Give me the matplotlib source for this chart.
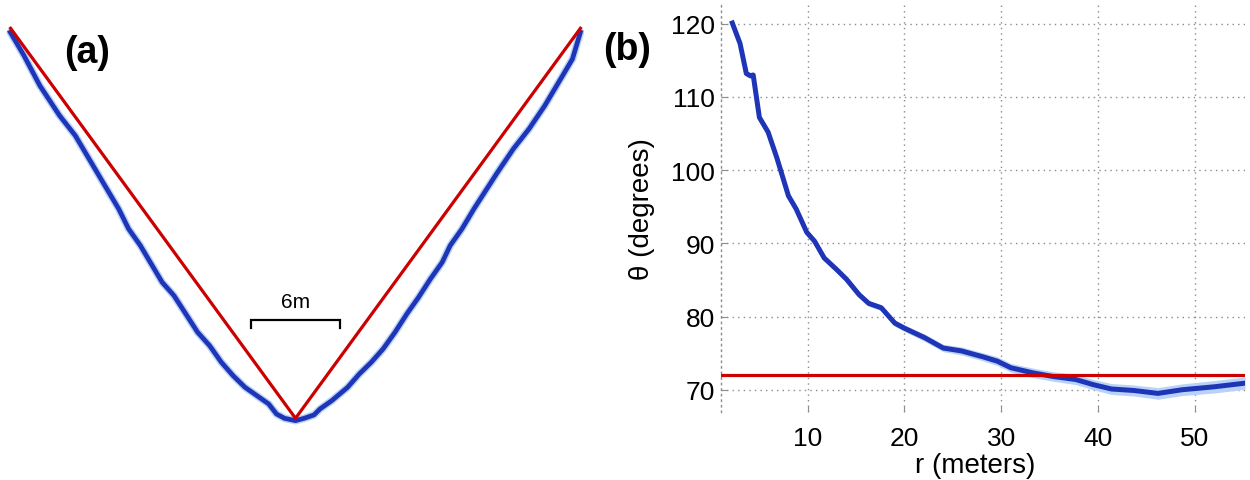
import matplotlib
matplotlib.use("Agg")
import matplotlib.pyplot as plt
import numpy as np

plt.rcParams['font.family'] = ['Liberation Sans', 'DejaVu Sans']

# ---------------- Panel (a): shape in meters ----------------
shape_x = [-19.38, -18.45, -17.37, -16.03, -14.96, -13.62, -12.95, -12.01, -11.34, -10.54,
           -9.87, -9.06, -8.26, -7.45, -6.65, -5.84, -5.04, -4.24, -3.43, -2.63,
           -1.82, -1.29, -0.75, 0.0, 0.59, 1.26, 1.66, 2.47, 3.54, 4.34,
           5.15, 5.95, 6.76, 7.56, 8.36, 9.17, 9.97, 10.51, 11.31, 12.12,
           12.92, 13.73, 14.80, 15.87, 16.94, 18.02, 18.82, 19.36]
shape_y = [26.17, 24.59, 22.55, 20.52, 19.16, 16.90, 15.77, 14.19, 12.84, 11.71,
           10.58, 9.22, 8.32, 7.07, 5.83, 4.93, 3.80, 2.89, 2.10, 1.54,
           0.97, 0.29, 0.0, -0.16, 0.0, 0.23, 0.63, 1.20, 2.10, 3.01,
           3.80, 4.70, 5.83, 7.07, 8.20, 9.45, 10.58, 11.71, 12.84, 14.19,
           15.43, 16.68, 18.26, 19.62, 21.20, 23.01, 24.36, 26.17]
wedge_x = [-19.36, 0.0, 19.36]
wedge_y = [26.44, 0.0, 26.44]
scale_bar_m = 6
scale_label = "6m"

# ---------------- Panel (b): theta vs r ----------------
r_m = [2.2, 3.0, 3.65, 4.07, 4.36, 5.0, 5.9, 6.8, 8.0, 8.8,
       9.9, 10.7, 11.7, 13.0, 14.0, 15.3, 16.3, 17.6, 19.0, 20.0,
       22.1, 24.0, 25.9, 28.1, 29.6, 31.0, 33.3, 35.4, 37.7, 39.5,
       41.4, 43.7, 46.2, 48.7, 52.0, 55.2]
theta_deg = [120.1, 117.3, 113.2, 112.9, 113.0, 107.2, 105.2, 101.7, 96.5, 94.7,
             91.5, 90.3, 88.0, 86.4, 85.1, 83.0, 81.8, 81.2, 79.1, 78.4,
             77.1, 75.7, 75.3, 74.5, 73.9, 73.0, 72.3, 71.8, 71.4, 70.7,
             70.1, 69.9, 69.5, 70.0, 70.4, 70.9]
theta_sd = [0.6, 0.5, 0.4, 0.4, 0.4, 0.35, 0.35, 0.3, 0.3, 0.3,
            0.3, 0.3, 0.3, 0.35, 0.35, 0.4, 0.4, 0.4, 0.45, 0.45,
            0.5, 0.5, 0.55, 0.55, 0.6, 0.6, 0.65, 0.65, 0.7, 0.7,
            0.75, 0.75, 0.8, 0.8, 0.85, 0.85]
theta_ref = 72
xticks_b = [10, 20, 30, 40, 50]
yticks_b = [70, 80, 90, 100, 110, 120]

BLUE = '#1f35b8'
LIGHT = '#b9d3f7'
RED = '#cc0000'
GRID = '#8c8c8c'

W, H = 1250, 481
fig = plt.figure(figsize=(W / 100, H / 100), dpi=100)

# ---- panel (a)
axa = fig.add_axes([10 / W, (H - 419.3) / H, 571 / W, 390 / H])
axa.set_xlim(-19.4, 19.4)
axa.set_ylim(0, 26.44)
axa.axis('off')
axa.plot(shape_x, shape_y, color=LIGHT, lw=5.5, solid_capstyle='round', clip_on=False, zorder=1)
axa.plot(shape_x, shape_y, color=BLUE, lw=3.4, solid_joinstyle='round', clip_on=False, zorder=2)
axa.plot(wedge_x, wedge_y, color=RED, lw=2.3, clip_on=False, zorder=3)
half = scale_bar_m / 2
axa.plot([-half, -half, half, half], [6.10, 6.69, 6.69, 6.10], color='black', lw=1.6,
         solid_joinstyle='miter', clip_on=False)
axa.text(0, 7.92, scale_label, ha='center', va='center', fontsize=15)
fig.text(87 / W, 1 - 53 / H, "(a)", ha='center', va='center', fontsize=27, fontweight='bold')

# ---- panel (b)
left, right, top, bottom = 720.7, 1245, 5, 412.7
axb = fig.add_axes([left / W, (H - bottom) / H, (right - left) / W, (bottom - top) / H])
axb.fill_between(r_m, np.array(theta_deg) - np.array(theta_sd),
                 np.array(theta_deg) + np.array(theta_sd), color=LIGHT, lw=0, zorder=2)
axb.plot(r_m, theta_deg, color=BLUE, lw=3.6, zorder=3)
axb.axhline(theta_ref, color=RED, lw=2.3, zorder=4)
axb.set_xlim(1, 55.2)
axb.set_ylim(67, 122.7)
axb.set_xticks(xticks_b)
axb.set_yticks(yticks_b)
axb.grid(True, color=GRID, linestyle=(0, (1, 3)), lw=1.0)
for s in ['top', 'right', 'bottom']:
    axb.spines[s].set_visible(False)
axb.spines['left'].set_linestyle((0, (1, 3)))
axb.spines['left'].set_color(GRID)
axb.spines['left'].set_linewidth(1.0)
axb.tick_params(axis='both', direction='in', length=4, color=GRID, labelsize=19)
axb.tick_params(axis='y', pad=4)
axb.tick_params(axis='x', pad=10)
axb.set_xlabel("r (meters)", fontsize=20)
axb.set_ylabel("θ (degrees)", fontsize=20)
axb.xaxis.set_label_coords(0.485, -0.10)
axb.yaxis.set_label_coords(-0.125, 0.50)
fig.text(627 / W, 1 - 50 / H, "(b)", ha='center', va='center', fontsize=27, fontweight='bold')

fig.savefig("out.png", dpi=100)
